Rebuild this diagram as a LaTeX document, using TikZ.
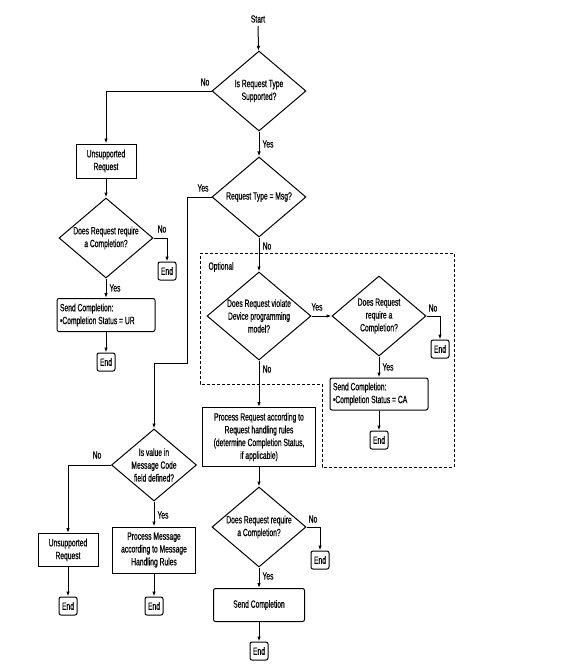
\documentclass[tikz,border=0pt]{standalone}
\usepackage{fontspec}
\setmainfont{Liberation Sans}[FakeStretch=0.64, FakeBold=0.6]
\usepackage{tikz}
\usetikzlibrary{arrows.meta,shapes.geometric,positioning}
\tikzset{
    decision/.style={
           diamond, aspect=1.175,
           draw, line width=1pt,
           inner sep=0pt,
           align=center,
           minimum width=94pt, minimum height=80pt,
           },
    process/.style={
           rectangle,
           draw, line width=1pt,
           inner sep=2pt,
           align=center,
           },
    sendbox/.style={
           rectangle, rounded corners=2pt,
           draw, line width=1pt,
           inner sep=3pt,
           text width=92pt, align=flush left,
           },
    endbox/.style={
           rectangle, rounded corners=2pt,
           draw, line width=1pt,
           inner sep=1pt,
           minimum width=18pt, minimum height=18pt,
           },
    flow/.style={
           ->, >={Latex[length=5pt,width=3.5pt]}, line width=1pt,
           },
    optional/.style={
           dash pattern=on 3pt off 2pt, line width=0.8pt,
           },
}

\begin{document}
\begin{tikzpicture}[x=1pt, y=-1pt, font=\fontsize{10.5}{12.8}\selectfont]
\useasboundingbox (0,0) rectangle (576,672);
\node (start) at (258,19) {Start};
\node[decision] (supp) at (259,91) {Is Request Type\\Supported?};
\node[decision] (msg) at (259,197) {Request Type = Msg?};
\node[process, minimum width=60pt, minimum height=34pt] (unsupA) at (106,161) {Unsupported\\Request};
\node[decision] (complA) at (106,238) {Does Request require\\a Completion?};
\node[endbox] (endA) at (167,271) {End};
\node[sendbox, minimum height=33pt] (sendUR) at (106,315) {Send Completion:\\•Completion Status = UR};
\node[endbox] (endB) at (106,362) {End};
\node[decision, minimum width=85pt, minimum height=72pt] (code) at (154,465) {Is value in\\Message Code\\field defined?};
\node[process, minimum width=60pt, minimum height=33pt] (unsupB) at (68,550) {Unsupported\\Request};
\node[endbox] (endC) at (68,606) {End};
\node[process, minimum width=83pt, minimum height=46pt] (procMsg) at (154,550) {Process Message\\according to Message\\Handling Rules};
\node[endbox] (endD) at (154,606) {End};
\node[decision, minimum width=104pt, minimum height=88pt] (viol) at (259,316) {Does Request violate\\Device programming\\model?};
\node[decision] (complCA) at (379,316) {Does Request\\require a\\Completion?};
\node[endbox] (endE) at (440,349) {End};
\node[sendbox, minimum height=32pt] (sendCA) at (379,394) {Send Completion:\\•Completion Status = CA};
\node[endbox] (endF) at (379,440) {End};
\node[process, minimum width=113pt, minimum height=59pt] (procReq) at (259,437) {Process Request according to\\Request handling rules\\(determine Completion Status,\\if applicable)};
\node[decision] (complB) at (259,527) {Does Request require\\a Completion?};
\node[endbox] (endG) at (320,560) {End};
\node[sendbox, text width=85pt, align=flush center, minimum height=33pt] (send) at (259,605) {Send Completion};
\node[endbox] (endH) at (259,651) {End};
\node[anchor=west] (opt) at (205,267) {Optional};
\draw[optional] (200,253) -- (454,253) -- (454,467) -- (322,467) -- (322,384) -- (200,384) -- cycle;
\coordinate (msgbend) at (187,363);
\draw[flow] (start) -- (supp);
\draw[flow] (supp.west) -| (unsupA.north);
\draw[flow] (supp) -- (msg);
\draw[flow] (unsupA) -- (complA);
\draw[flow] (complA.east) -| (endA.north);
\draw[flow] (complA) -- (sendUR);
\draw[flow] (sendUR) -- (endB);
\draw[flow] (msg.west) -| (msgbend) -| (code.north);
\draw[flow] (code.west) -| (unsupB.north);
\draw[flow] (code) -- (procMsg);
\draw[flow] (unsupB) -- (endC);
\draw[flow] (procMsg) -- (endD);
\draw[flow] (msg) -- (viol);
\draw[flow] (viol) -- (complCA);
\draw[flow] (complCA.east) -| (endE.north);
\draw[flow] (complCA) -- (sendCA);
\draw[flow] (sendCA) -- (endF);
\draw[flow] (viol) -- (procReq);
\draw[flow] (procReq) -- (complB);
\draw[flow] (complB.east) -| (endG.north);
\draw[flow] (complB) -- (send);
\draw[flow] (send) -- (endH);
\node (noSupp) at (205,82) {No};
\node (yesSupp) at (268,144) {Yes};
\node (yesMsg) at (203,188) {Yes};
\node (noMsg) at (267,246) {No};
\node (noComplA) at (162,229) {No};
\node (yesComplA) at (115,288) {Yes};
\node (noCode) at (97,455) {No};
\node (yesCode) at (163,515) {Yes};
\node (yesViol) at (317,307) {Yes};
\node (noViol) at (267,369) {No};
\node (noComplCA) at (433,308) {No};
\node (yesComplCA) at (388,367) {Yes};
\node (noComplB) at (313,519) {No};
\node (yesComplB) at (268,576) {Yes};
\end{tikzpicture}
\end{document}
